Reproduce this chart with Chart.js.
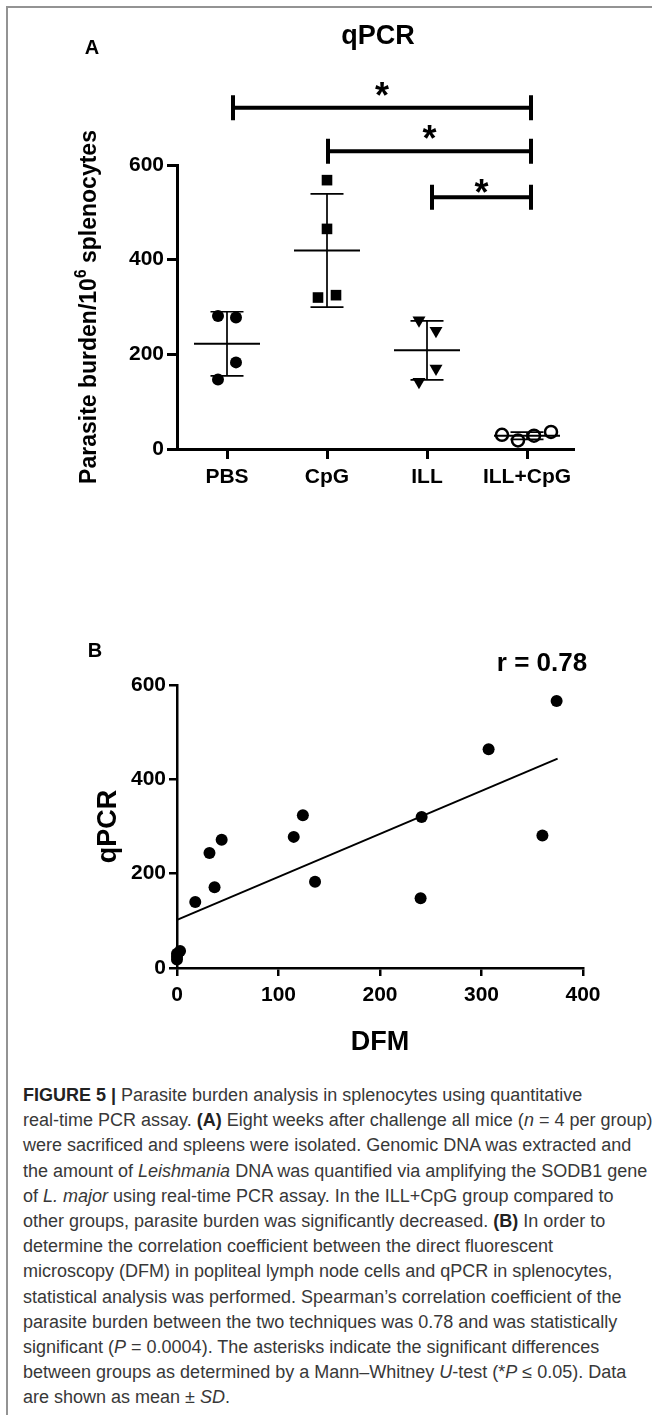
<!DOCTYPE html>
<html lang="en">
<head>
  <meta charset="UTF-8" />
  <meta name="viewport" content="width=device-width, initial-scale=1.0"/>
  <title>Figure 5 - Parasite burden (qPCR)</title>
  <script src="https://cdn.jsdelivr.net/npm/chart.js"></script>
  <style>
    * {
      box-sizing: border-box;
    }

    body {
      margin: 0;
      width: 652px;
      height: 1415px;
      position: relative;
      overflow: hidden;
      background: #fff;
      font-family: 'Liberation Sans', Arial, sans-serif;
    }

    .frame {
      position: absolute;
      left: 6px;
      top: 6px;
      width: 700px;
      height: 1500px;
      border-left: 2px solid #939393;
      border-top: 2px solid #939393;
    }

    canvas {
      position: absolute;
      left: 0;
    }

    #chartA { top: 0; }
    #chartB { top: 560px; }

    .lbl {
      position: absolute;
      font-weight: bold;
      color: #000;
      line-height: 1;
      white-space: nowrap;
      transform: translate(-50%, -50%);
      z-index: 2;
    }

    .caption {
      position: absolute;
      left: 23px;
      top: 1083px;
      font-size: 18px;
      line-height: 25.2px;
      color: #383838;
    }

    .caption div {
      white-space: nowrap;
    }

    .caption b {
      color: #222;
    }
  </style>
</head>
<body>
  <div class="frame"></div>

  <canvas id="chartA" width="652" height="500"></canvas>
  <canvas id="chartB" width="652" height="510"></canvas>

  <div class="lbl" style="left:92px; top:47px; font-size:20px;">A</div>
  <div class="lbl" style="left:378px; top:35px; font-size:27px;">qPCR</div>
  <div class="lbl" style="left:95px; top:650px; font-size:20px;">B</div>
  <div class="lbl" id="rLabel" style="left:542px; top:662px; font-size:26px;"></div>

  <div class="caption">
    <div><b>FIGURE 5 |</b> Parasite burden analysis in splenocytes using quantitative</div>
    <div>real-time PCR assay. <b>(A)</b> Eight weeks after challenge all mice (<i>n</i> = 4 per group)</div>
    <div>were sacrificed and spleens were isolated. Genomic DNA was extracted and</div>
    <div>the amount of <i>Leishmania</i> DNA was quantified via amplifying the SODB1 gene</div>
    <div>of <i>L. major</i> using real-time PCR assay. In the ILL+CpG group compared to</div>
    <div>other groups, parasite burden was significantly decreased. <b>(B)</b> In order to</div>
    <div>determine the correlation coefficient between the direct fluorescent</div>
    <div>microscopy (DFM) in popliteal lymph node cells and qPCR in splenocytes,</div>
    <div>statistical analysis was performed. Spearman’s correlation coefficient of the</div>
    <div>parasite burden between the two techniques was 0.78 and was statistically</div>
    <div>significant (<i>P</i> = 0.0004). The asterisks indicate the significant differences</div>
    <div>between groups as determined by a Mann–Whitney <i>U</i>-test (*<i>P</i> ≤ 0.05). Data</div>
    <div>are shown as mean ± <i>SD</i>.</div>
  </div>

  <script>
    // panel A : parasite burden per group (4 mice each)
    const groups = ['PBS', 'CpG', 'ILL', 'ILL+CpG'];
    const pbsValues = [281, 278, 183, 147];
    const cpgValues = [568, 465, 320, 325];
    const illValues = [272, 250, 170, 142];
    const illCpgValues = [30, 18, 28, 36];
    const burdenTicks = [0, 200, 400, 600];
    const sigPairs = [[0, 3], [1, 3], [2, 3]];
    const sigMarks = ['*', '*', '*'];

    // panel B : DFM vs qPCR
    const dfmValues = [374, 307, 241, 360, 124, 115, 44, 32, 37, 18, 136, 240, 3, 0, 0, 0];
    const qpcrValues = [566, 464, 320, 281, 324, 278, 272, 244, 171, 140, 183, 148, 36, 30, 24, 18];
    const fitDfm = [0, 375];
    const fitQpcr = [102, 444];
    const dfmTicks = [0, 100, 200, 300, 400];
    const qpcrTicks = [0, 200, 400, 600];
    const spearmanR = 0.78;

    const groupValues = [pbsValues, cpgValues, illValues, illCpgValues];

    // horizontal spread of the dots inside each column (category units)
    const spread = [
      [-0.09, 0.09, 0.09, -0.09],
      [0, 0, -0.09, 0.09],
      [-0.08, 0.09, 0.09, -0.08],
      [-0.25, -0.09, 0.07, 0.24]
    ];

    const markers = [
      { pointStyle: 'circle', pointRadius: 6, pointRotation: 0, pointBackgroundColor: '#000', pointBorderWidth: 0 },
      { pointStyle: 'rect', pointRadius: 7.5, pointRotation: 0, pointBackgroundColor: '#000', pointBorderWidth: 0 },
      { pointStyle: 'triangle', pointRadius: 7.5, pointRotation: 180, pointBackgroundColor: '#000', pointBorderWidth: 0 },
      { pointStyle: 'circle', pointRadius: 6, pointRotation: 0, pointBackgroundColor: 'rgba(0,0,0,0)', pointBorderWidth: 2.5 }
    ];

    const FONT = "'Liberation Sans', Arial, sans-serif";
    Chart.defaults.font.family = FONT;
    Chart.defaults.color = '#000';

    function axisStyle(tickLen, width) {
      return {
        grid: { display: true, drawOnChartArea: false, drawTicks: true, tickLength: tickLen, color: '#000', lineWidth: width },
        border: { display: true, color: '#000', width: width }
      };
    }

    const meanSdPlugin = {
      id: 'meanSd',
      afterDatasetsDraw(chart, args, opts) {
        const { ctx, scales: { x, y } } = chart;
        ctx.save();
        ctx.strokeStyle = '#000';
        ctx.lineCap = 'butt';
        groupValues.forEach((vals, g) => {
          const mean = vals.reduce((a, b) => a + b, 0) / vals.length;
          const sd = Math.sqrt(vals.reduce((a, b) => a + (b - mean) ** 2, 0) / (vals.length - 1));
          const xc = x.getPixelForValue(g);
          const mHalf = x.getPixelForValue(g + opts.meanHalf) - xc;
          const cHalf = x.getPixelForValue(g + opts.capHalf) - xc;
          const yMean = y.getPixelForValue(mean);
          const yTop = y.getPixelForValue(mean + sd);
          const yBot = y.getPixelForValue(mean - sd);

          ctx.lineWidth = opts.meanWidth;
          ctx.beginPath();
          ctx.moveTo(xc - mHalf, yMean);
          ctx.lineTo(xc + mHalf, yMean);
          ctx.stroke();

          ctx.lineWidth = opts.sdWidth;
          ctx.beginPath();
          ctx.moveTo(xc, yTop);
          ctx.lineTo(xc, yBot);
          ctx.moveTo(xc - cHalf, yTop);
          ctx.lineTo(xc + cHalf, yTop);
          ctx.moveTo(xc - cHalf, yBot);
          ctx.lineTo(xc + cHalf, yBot);
          ctx.stroke();
        });
        ctx.restore();
      }
    };

    const bracketPlugin = {
      id: 'brackets',
      afterDraw(chart, args, opts) {
        const { ctx, scales: { x, y } } = chart;
        ctx.save();
        ctx.strokeStyle = '#000';
        ctx.fillStyle = '#000';
        ctx.lineWidth = opts.width;
        ctx.font = 'bold ' + opts.starSize + 'px ' + FONT;
        ctx.textAlign = 'center';
        ctx.textBaseline = 'alphabetic';
        sigPairs.forEach(([a, b], i) => {
          const yy = y.getPixelForValue(opts.levels[i]);
          const x1 = x.getPixelForValue(a + opts.startInset[i]);
          const x2 = x.getPixelForValue(b + opts.endInset);
          ctx.beginPath();
          ctx.moveTo(x1, yy);
          ctx.lineTo(x2, yy);
          ctx.moveTo(x1, yy - opts.cap);
          ctx.lineTo(x1, yy + opts.cap);
          ctx.moveTo(x2, yy - opts.cap);
          ctx.lineTo(x2, yy + opts.cap);
          ctx.stroke();

          const m = ctx.measureText(sigMarks[i]);
          const cy = yy - opts.starGap[i];
          const base = cy + (m.actualBoundingBoxAscent - m.actualBoundingBoxDescent) / 2;
          ctx.fillText(sigMarks[i], (x1 + x2) / 2, base);
        });
        ctx.restore();
      }
    };

    // y title of panel A, drawn by hand so the exponent can be a real superscript
    const burdenTitlePlugin = {
      id: 'burdenTitle',
      afterDraw(chart, args, opts) {
        const { ctx, chartArea } = chart;
        const parts = [
          { text: 'Parasite burden/10', size: opts.size, rise: 0 },
          { text: '6', size: opts.size * 0.68, rise: opts.size * 0.42 },
          { text: ' splenocytes', size: opts.size, rise: 0 }
        ];
        ctx.save();
        ctx.fillStyle = '#000';
        ctx.textBaseline = 'alphabetic';
        ctx.textAlign = 'left';
        const widths = parts.map(p => {
          ctx.font = 'bold ' + p.size + 'px ' + FONT;
          return ctx.measureText(p.text).width;
        });
        const total = widths.reduce((a, b) => a + b, 0);
        ctx.translate(opts.x, (chartArea.top + chartArea.bottom) / 2);
        ctx.rotate(-Math.PI / 2);
        let pos = -total / 2;
        parts.forEach((p, i) => {
          ctx.font = 'bold ' + p.size + 'px ' + FONT;
          ctx.fillText(p.text, pos, opts.baseline - p.rise);
          pos += widths[i];
        });
        ctx.restore();
      }
    };

    // ---------- panel A ----------
    new Chart(document.getElementById('chartA'), {
      type: 'scatter',
      data: {
        datasets: groupValues.map((vals, g) => Object.assign({
          label: groups[g],
          data: vals.map((v, k) => ({ x: g + spread[g][k], y: v })),
          pointBorderColor: '#000',
          clip: false
        }, markers[g]))
      },
      options: {
        responsive: false,
        animation: false,
        events: [],
        layout: { padding: { left: 50, top: 165, right: 79, bottom: 0 } },
        plugins: {
          legend: { display: false },
          tooltip: { enabled: false },
          meanSd: { meanHalf: 0.33, capHalf: 0.165, meanWidth: 2, sdWidth: 1.7 },
          brackets: {
            levels: [721, 629, 532],
            startInset: [0.06, 0.01, 0.05],
            endInset: 0.04,
            cap: 12.5,
            width: 4,
            starSize: 36,
            starGap: [19, 19, 11]
          },
          burdenTitle: { x: 88, baseline: 8, size: 23 }
        },
        scales: {
          x: Object.assign({
            type: 'linear',
            min: -0.5,
            max: 3.46,
            afterBuildTicks: (s) => { s.ticks = groups.map((_, i) => ({ value: i })); },
            afterFit: (s) => { s.height = 51; },
            ticks: {
              autoSkip: false,
              maxRotation: 0,
              padding: 6,
              color: '#000',
              font: { size: 21, weight: 'bold' },
              callback: (v) => groups[v]
            }
          }, axisStyle(10, 3)),
          y: Object.assign({
            min: 0,
            max: 600,
            afterBuildTicks: (s) => { s.ticks = burdenTicks.map(v => ({ value: v })); },
            afterFit: (s) => { s.width = 127; },
            ticks: { padding: 3, color: '#000', font: { size: 21, weight: 'bold' } }
          }, axisStyle(10, 3))
        }
      },
      plugins: [meanSdPlugin, bracketPlugin, burdenTitlePlugin]
    });

    // ---------- panel B ----------
    document.getElementById('rLabel').textContent = 'r = ' + spearmanR.toFixed(2);

    new Chart(document.getElementById('chartB'), {
      type: 'scatter',
      data: {
        datasets: [
          {
            label: 'DFM vs qPCR',
            data: dfmValues.map((d, i) => ({ x: d, y: qpcrValues[i] })),
            pointStyle: 'circle',
            pointRadius: 6,
            pointBackgroundColor: '#000',
            pointBorderWidth: 0,
            clip: false,
            order: 1
          },
          {
            type: 'line',
            label: 'fit',
            data: fitDfm.map((d, i) => ({ x: d, y: fitQpcr[i] })),
            borderColor: '#000',
            borderWidth: 2,
            pointRadius: 0,
            fill: false,
            clip: false,
            order: 2
          }
        ]
      },
      options: {
        responsive: false,
        animation: false,
        events: [],
        layout: { padding: { left: 70, top: 125, right: 69, bottom: 0 } },
        plugins: {
          legend: { display: false },
          tooltip: { enabled: false }
        },
        scales: {
          x: Object.assign({
            type: 'linear',
            min: 0,
            max: 400,
            afterBuildTicks: (s) => { s.ticks = dfmTicks.map(v => ({ value: v })); },
            afterFit: (s) => { s.height = 102; },
            ticks: { padding: 7, color: '#000', font: { size: 21, weight: 'bold' } },
            title: {
              display: true,
              text: 'DFM',
              color: '#000',
              font: { size: 27, weight: 'bold' },
              padding: { top: 0, bottom: 11 }
            }
          }, axisStyle(8, 2.5)),
          y: Object.assign({
            min: 0,
            max: 600,
            afterBuildTicks: (s) => { s.ticks = qpcrTicks.map(v => ({ value: v })); },
            afterFit: (s) => { s.width = 107; },
            ticks: { padding: 3, color: '#000', font: { size: 21, weight: 'bold' } },
            title: {
              display: true,
              text: 'qPCR',
              color: '#000',
              font: { size: 27, weight: 'bold' },
              padding: { top: 22, bottom: 0 }
            }
          }, axisStyle(8, 2.5))
        }
      }
    });
  </script>
</body>
</html>
